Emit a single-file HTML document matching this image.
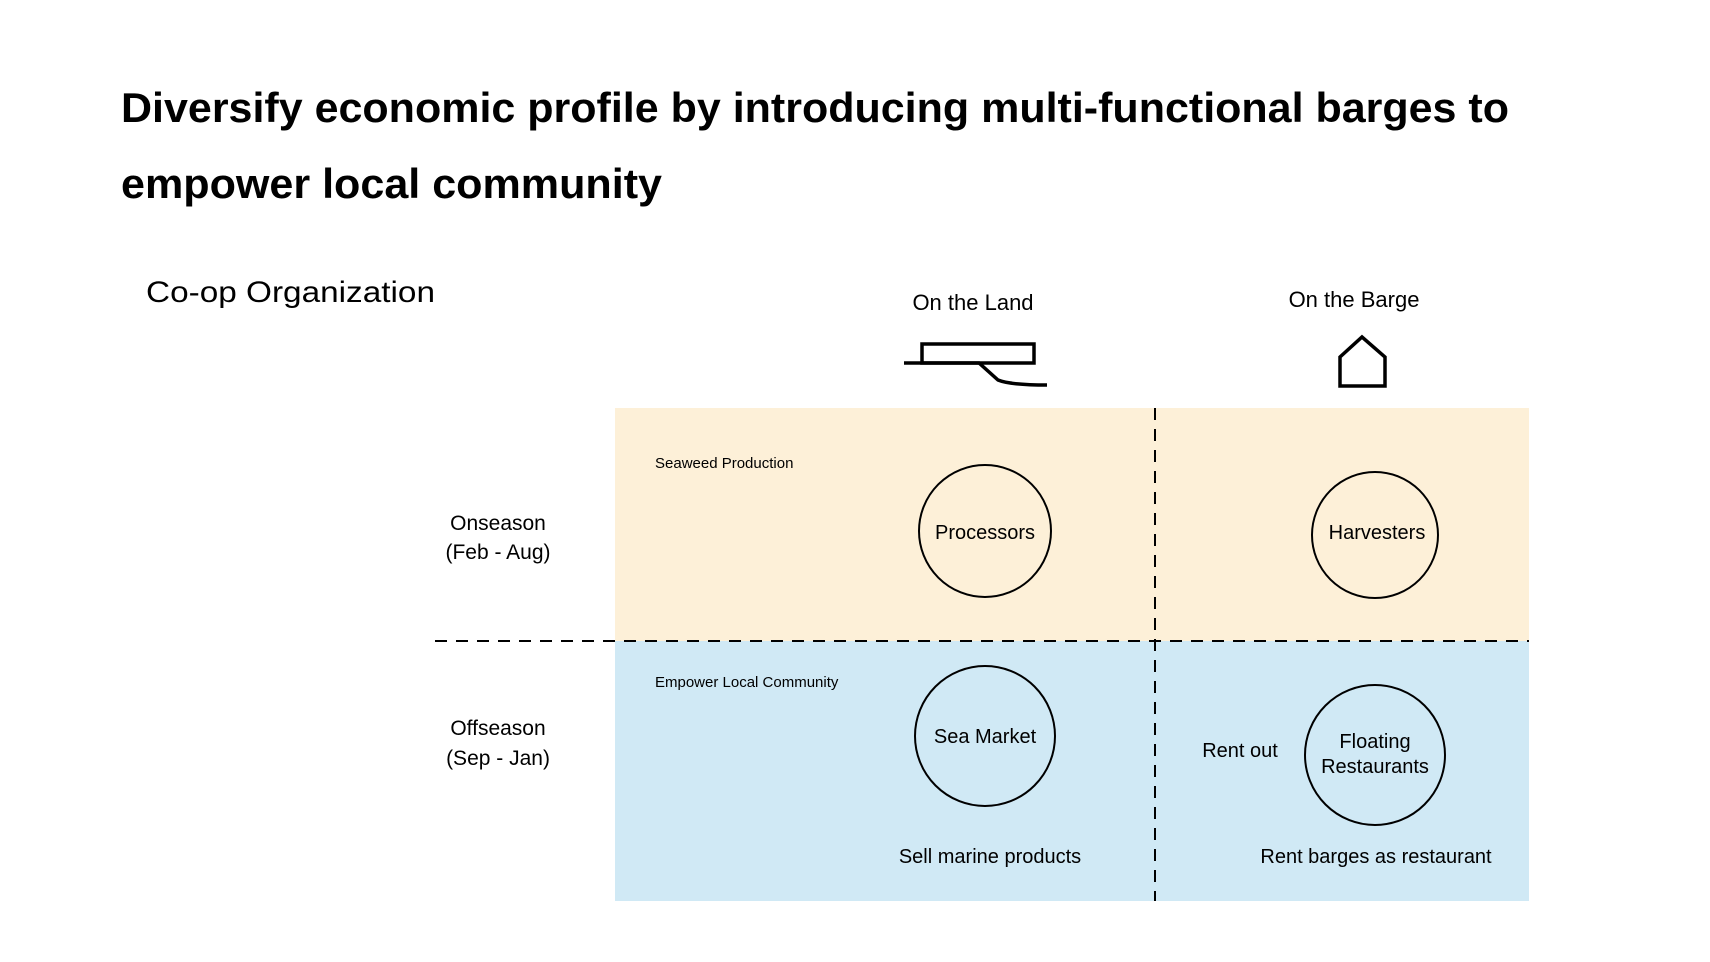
<!DOCTYPE html>
<html><head><meta charset="utf-8"><style>html,body{margin:0;padding:0;background:#fff}svg{display:block}</style></head>
<body>
<svg width="1710" height="962" viewBox="0 0 1710 962" xmlns="http://www.w3.org/2000/svg" font-family="Liberation Sans, sans-serif">
<rect width="1710" height="962" fill="#fff"/>
<text x="121" y="122" font-size="42" font-weight="bold" textLength="1388" lengthAdjust="spacingAndGlyphs">Diversify economic profile by introducing multi-functional barges to</text>
<text x="121" y="198" font-size="42" font-weight="bold" textLength="541" lengthAdjust="spacingAndGlyphs">empower local community</text>
<text x="146" y="302" font-size="30" textLength="289" lengthAdjust="spacingAndGlyphs">Co-op Organization</text>
<text x="973" y="310" font-size="22" text-anchor="middle">On the Land</text>
<text x="1354" y="307" font-size="22" text-anchor="middle">On the Barge</text>
<g fill="none" stroke="#000" stroke-width="3.5">
<rect x="922" y="344" width="112" height="19"/>
<path d="M904 363 H979 L998 380 Q1010 385 1047 385"/>
<path d="M1340 386 V357 L1362 337 L1385 357 V386 Z"/>
</g>
<rect x="615" y="408" width="914" height="233" fill="#fdf0d8"/>
<rect x="615" y="641" width="914" height="260" fill="#d0e9f5"/>
<g stroke="#000" stroke-width="2" stroke-dasharray="12,9" fill="none">
<line x1="435" y1="641" x2="1529" y2="641"/>
<line x1="1155" y1="408" x2="1155" y2="901"/>
</g>
<g fill="none" stroke="#000" stroke-width="2">
<circle cx="985" cy="531" r="66"/>
<circle cx="1375" cy="535" r="63"/>
<circle cx="985" cy="736" r="70"/>
<circle cx="1375" cy="755" r="70"/>
</g>
<g font-size="15"><text x="655" y="468">Seaweed Production</text><text x="655" y="687">Empower  Local Community</text></g>
<g font-size="21" text-anchor="middle">
<text x="498" y="530">Onseason</text><text x="498" y="559">(Feb - Aug)</text>
<text x="498" y="735">Offseason</text><text x="498" y="765">(Sep - Jan)</text>
<text x="985" y="539" font-size="20">Processors</text>
<text x="1377" y="539" font-size="20">Harvesters</text>
<text x="985" y="743" font-size="20">Sea Market</text>
<text x="1375" y="748" font-size="20">Floating</text>
<text x="1375" y="773" font-size="20">Restaurants</text>
<text x="1240" y="757" font-size="20">Rent out</text>
<text x="990" y="863" font-size="20">Sell marine products</text>
<text x="1376" y="863" font-size="20">Rent barges as restaurant</text>
</g>
</svg>
</body></html>
